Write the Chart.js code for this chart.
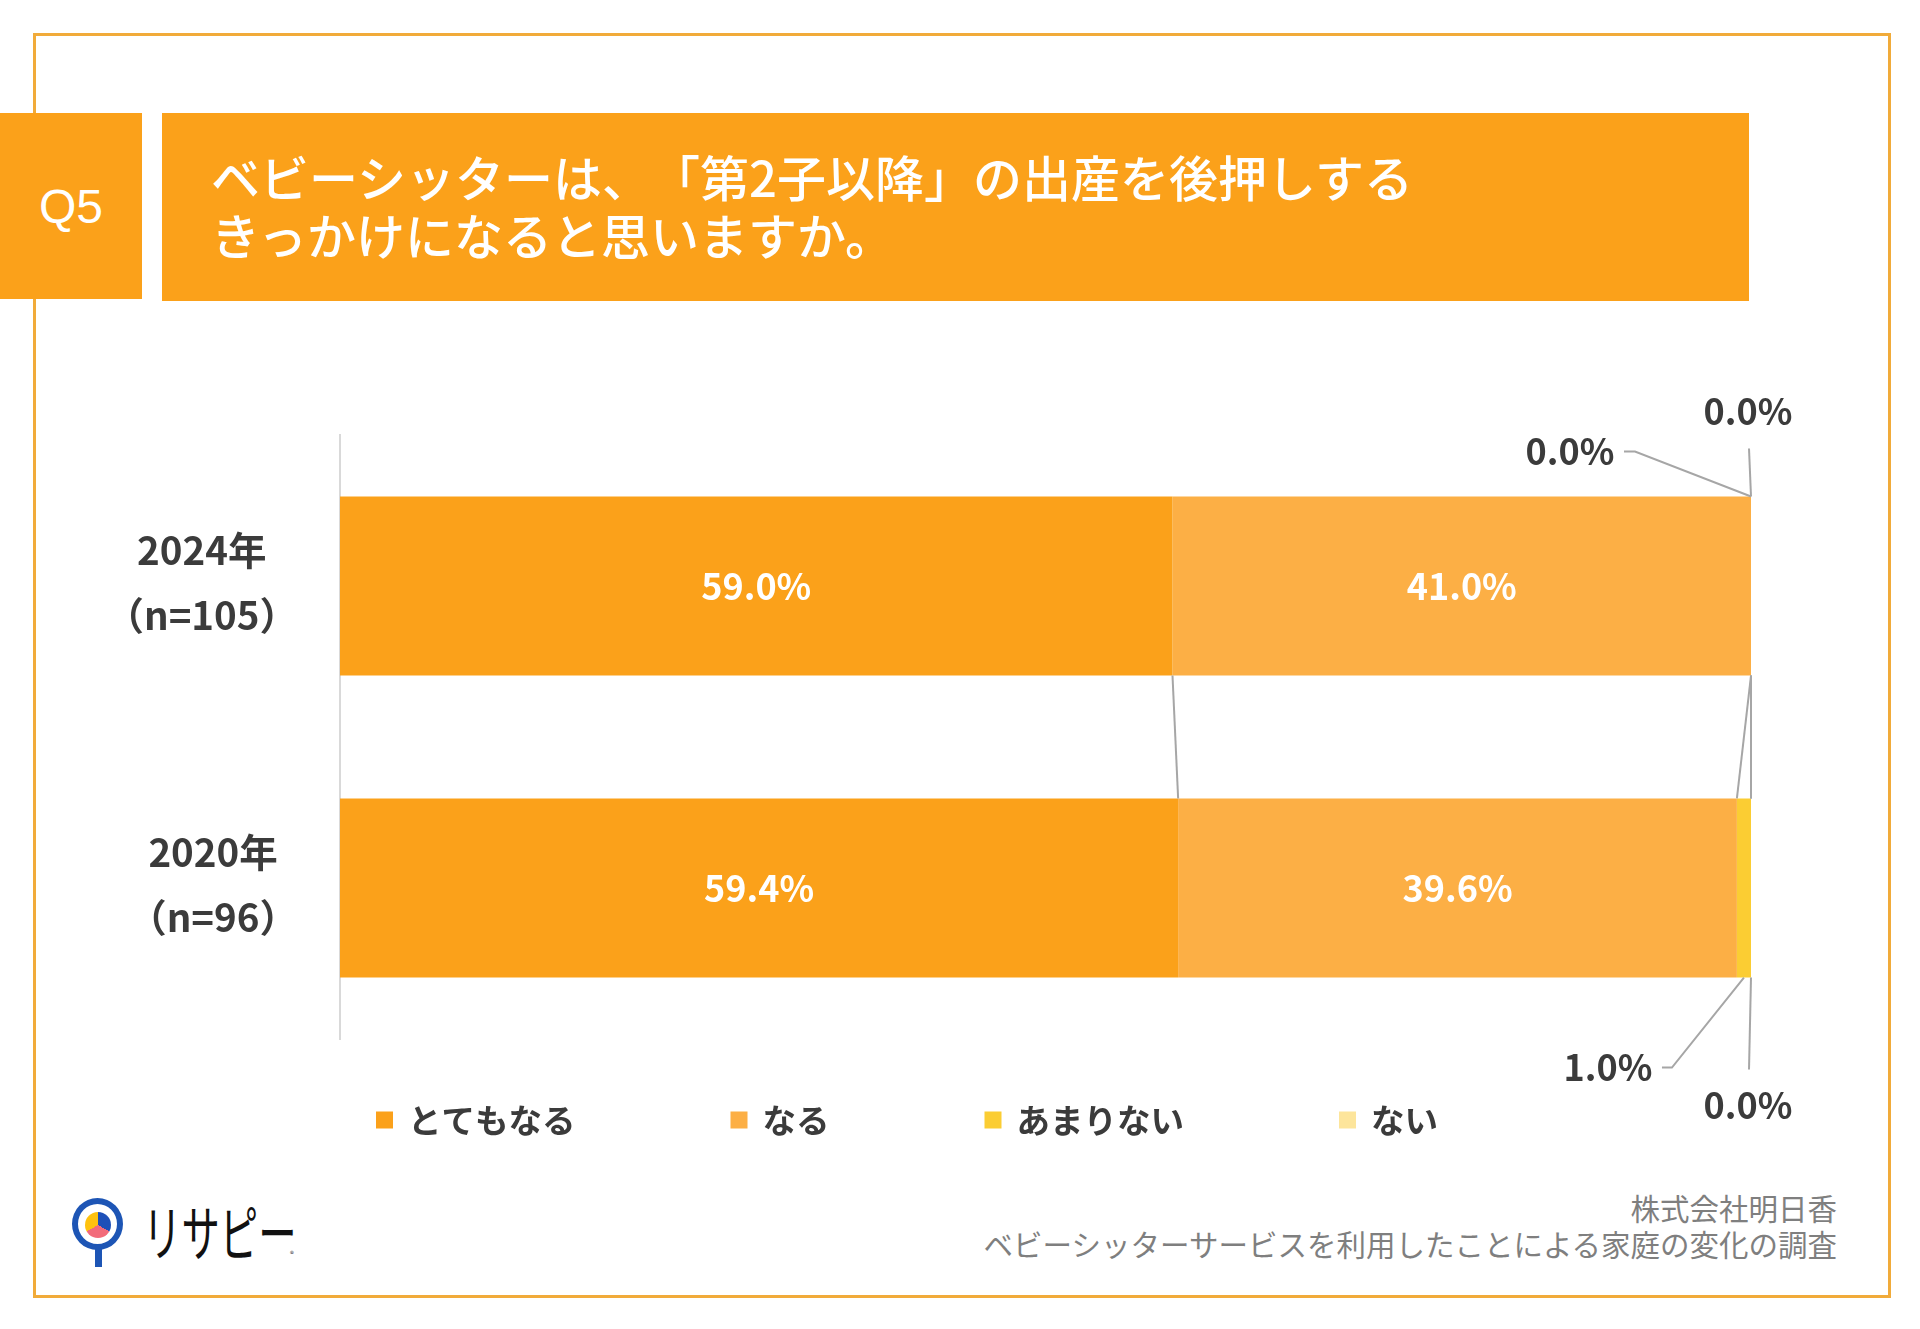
<!DOCTYPE html>
<html lang="ja">
<head>
  <meta charset="UTF-8" />
  <meta name="viewport" content="width=device-width, initial-scale=1.0"/>
  <title>Q5 ベビーシッターと第2子以降の出産</title>
  <script src="https://cdn.jsdelivr.net/npm/chart.js"></script>
  <style>
    body {
      margin: 0;
      width: 1920px;
      height: 1329px;
      position: relative;
      overflow: hidden;
      background: #fff;
      font-family: "Noto Sans CJK JP", "Noto Sans", sans-serif;
    }
    .frame {
      position: absolute;
      left: 33px;
      top: 33px;
      width: 1858px;
      height: 1265px;
      border: 3px solid #F1AB3A;
      box-sizing: border-box;
    }
    .qno {
      position: absolute;
      left: 0;
      top: 113px;
      width: 142px;
      height: 186px;
      background: #FBA11A;
      color: #fff;
      font-family: "Liberation Sans", Arial, sans-serif;
      font-size: 48px;
      display: flex;
      align-items: center;
      justify-content: center;
      z-index: 2;
    }
    .title {
      position: absolute;
      left: 162px;
      top: 113px;
      width: 1587px;
      height: 188px;
      padding-left: 49px;
      padding-bottom: 4px;
      box-sizing: border-box;
      background: #FBA11A;
      color: #fff;
      font-size: 49px;
      font-weight: 500;
      line-height: 58px;
      text-spacing-trim: space-all;
      display: flex;
      flex-direction: column;
      justify-content: center;
    }
    #chartWrap {
      position: absolute;
      left: 0;
      top: 0;
      width: 1920px;
      height: 1329px;
      z-index: 3;
    }
    .footer {
      position: absolute;
      right: 83px;
      top: 1189px;
      text-align: right;
      color: #7F7F7F;
      font-size: 29.5px;
      line-height: 36px;
    }
    /* logo */
    .pin {
      position: absolute;
      left: 72px;
      top: 1198px;
      width: 51px;
      height: 52px;
      border: 6px solid #1D55B5;
      border-radius: 50%;
      box-sizing: border-box;
    }
    .pie {
      position: absolute;
      left: 85px;
      top: 1212px;
      width: 26px;
      height: 26px;
      border-radius: 50%;
      background: conic-gradient(#1E50B8 0deg 120deg, #F26B7A 120deg 240deg, #FFC20E 240deg 360deg);
    }
    .stem {
      position: absolute;
      left: 95px;
      top: 1248px;
      width: 7px;
      height: 19px;
      background: #1D55B5;
    }
    .logotext {
      position: absolute;
      left: 143px;
      top: 1190px;
      font-size: 60px;
      line-height: 80px;
      color: #111;
      transform: scaleX(0.64);
      transform-origin: left center;
      white-space: nowrap;
    }
    .reg {
      position: absolute;
      left: 290px;
      top: 1248px;
      font-size: 8px;
      color: #333;
    }
  </style>
</head>
<body>
  <div class="frame"></div>
  <div class="qno">Q5</div>
  <div class="title">
    <div>ベビーシッターは、「第2子以降」の出産を後押しする</div>
    <div>きっかけになると思いますか。</div>
  </div>

  <div class="pin"></div>
  <div class="pie"></div>
  <div class="stem"></div>
  <div class="logotext">リサピー</div>
  <div class="reg">®</div>

  <div class="footer">
    <div>株式会社明日香</div>
    <div>ベビーシッターサービスを利用したことによる家庭の変化の調査</div>
  </div>

  <div id="chartWrap">
    <canvas id="myChart"></canvas>
  </div>

<script>
  // categories (survey year + sample size, one line each)
  const categories = [
    ['2024年', '（n=105）'],
    ['2020年', '（n=96）']
  ];

  // answer options, in stacking order
  const answers = ['とてもなる', 'なる', 'あまりない', 'ない'];

  // percentages per answer: [2024, 2020]
  const veryMuch = [59.0, 59.4];
  const somewhat = [41.0, 39.6];
  const notMuch = [0.0, 1.0];
  const notAtAll = [0.0, 0.0];

  const colors = ['#FBA11A', '#FCAF45', '#FBCD33', '#FDE59B'];

  // small values are written outside the bar with a leader line
  // offsets are relative to the bar edge (top or bottom) at the segment centre
  const callouts = {
    '2-0': { side: 'top', label: [-181, -45], start: [-127, -45], elbow: [-116, -45] },
    '3-0': { side: 'top', label: [-3, -85], start: [-2, -48] },
    '2-1': { side: 'bottom', label: [-136, 90], start: [-82, 90], elbow: [-72, 90] },
    '3-1': { side: 'bottom', label: [-3, 128], start: [-2, 92] }
  };

  // two-line category labels, each block centred on itself, right edges aligned
  const yearLabels = {
    id: 'yearLabels',
    afterDraw(chart, args, opts) {
      const { ctx, chartArea } = chart;
      const yScale = chart.scales.y;
      ctx.save();
      ctx.font = opts.font;
      ctx.fillStyle = opts.color;
      ctx.textAlign = 'center';
      ctx.textBaseline = 'middle';
      const right = chartArea.left - opts.gap;
      chart.data.labels.forEach((lines, i) => {
        const yc = yScale.getPixelForValue(i) + opts.shift;
        const w = Math.max(...lines.map(t => ctx.measureText(t).width));
        lines.forEach((t, k) => {
          ctx.fillText(t, right - w / 2, yc + (k - (lines.length - 1) / 2) * opts.lineHeight);
        });
      });
      ctx.restore();
    }
  };

  // lines joining the segment boundaries of the two bars
  const seriesLines = {
    id: 'seriesLines',
    afterDatasetsDraw(chart, args, opts) {
      const { ctx } = chart;
      ctx.save();
      ctx.strokeStyle = opts.color;
      ctx.lineWidth = opts.width;
      chart.data.datasets.forEach((ds, di) => {
        const meta = chart.getDatasetMeta(di);
        const a = meta.data[0];
        const b = meta.data[1];
        ctx.beginPath();
        ctx.moveTo(a.x, a.y + a.height / 2);
        ctx.lineTo(b.x, b.y - b.height / 2);
        ctx.stroke();
      });
      ctx.restore();
    }
  };

  // percentage labels
  const valueLabels = {
    id: 'valueLabels',
    afterDatasetsDraw(chart, args, opts) {
      const { ctx } = chart;
      ctx.save();
      ctx.font = opts.font;
      ctx.textAlign = 'center';
      ctx.textBaseline = 'middle';
      chart.data.datasets.forEach((ds, di) => {
        const meta = chart.getDatasetMeta(di);
        meta.data.forEach((bar, i) => {
          const v = ds.data[i];
          const text = v.toFixed(1) + '%';
          const cx = (bar.x + bar.base) / 2;
          if (v >= opts.minInside) {
            ctx.fillStyle = opts.insideColor;
            ctx.fillText(text, cx, bar.y);
            return;
          }
          const c = callouts[di + '-' + i];
          if (!c) return;
          const ay = c.side === 'top' ? bar.y - bar.height / 2 : bar.y + bar.height / 2;
          ctx.strokeStyle = opts.lineColor;
          ctx.lineWidth = opts.lineWidth;
          ctx.beginPath();
          ctx.moveTo(cx + c.start[0], ay + c.start[1]);
          if (c.elbow) ctx.lineTo(cx + c.elbow[0], ay + c.elbow[1]);
          ctx.lineTo(cx, ay);
          ctx.stroke();
          ctx.fillStyle = opts.outsideColor;
          ctx.fillText(text, cx + c.label[0], ay + c.label[1]);
        });
      });
      ctx.restore();
    }
  };

  // legend with wide, even gaps between items
  const spreadLegend = {
    id: 'spreadLegend',
    afterDraw(chart, args, opts) {
      const { ctx } = chart;
      ctx.save();
      ctx.font = opts.font;
      ctx.textAlign = 'left';
      ctx.textBaseline = 'middle';
      let x = opts.x;
      chart.data.datasets.forEach(ds => {
        ctx.fillStyle = ds.backgroundColor;
        ctx.fillRect(x, opts.y - opts.box / 2, opts.box, opts.box);
        x += opts.box + opts.gap;
        ctx.fillStyle = opts.color;
        ctx.fillText(ds.label, x, opts.y);
        x += ctx.measureText(ds.label).width + opts.spacing;
      });
      ctx.restore();
    }
  };

  const seriesValues = [veryMuch, somewhat, notMuch, notAtAll];
  const datasets = answers.map((name, i) => ({
    label: name,
    data: seriesValues[i],
    backgroundColor: colors[i],
    borderWidth: 0,
    barPercentage: 0.593,
    categoryPercentage: 1
  }));

  const ctx = document.getElementById('myChart').getContext('2d');
  const chart = new Chart(ctx, {
    type: 'bar',
    data: { labels: categories, datasets: datasets },
    plugins: [yearLabels, seriesLines, valueLabels, spreadLegend],
    options: {
      indexAxis: 'y',
      responsive: true,
      maintainAspectRatio: false,
      animation: false,
      layout: { padding: { left: 340, right: 169, top: 435, bottom: 290 } },
      scales: {
        x: { stacked: true, min: 0, max: 100, display: false },
        y: {
          stacked: true,
          ticks: { display: false },
          grid: { display: false, drawTicks: false },
          border: { display: true, color: '#D9D9D9', width: 2 }
        }
      },
      plugins: {
        legend: { display: false },
        tooltip: { enabled: false },
        yearLabels: { font: 'bold 38.5px "Noto Sans CJK JP"', color: '#3B3B3B', gap: 42, lineHeight: 65, shift: -3 },
        seriesLines: { color: '#A6A6A6', width: 2 },
        valueLabels: {
          font: 'bold 36px "Noto Sans CJK JP"',
          minInside: 5,
          insideColor: '#FFFFFF',
          outsideColor: '#3B3B3B',
          lineColor: '#A6A6A6',
          lineWidth: 2
        },
        spreadLegend: { x: 376, y: 1120, box: 17, gap: 15, spacing: 155, font: 'bold 33.5px "Noto Sans CJK JP"', color: '#3B3B3B' }
      }
    }
  });
</script>
</body>
</html>
